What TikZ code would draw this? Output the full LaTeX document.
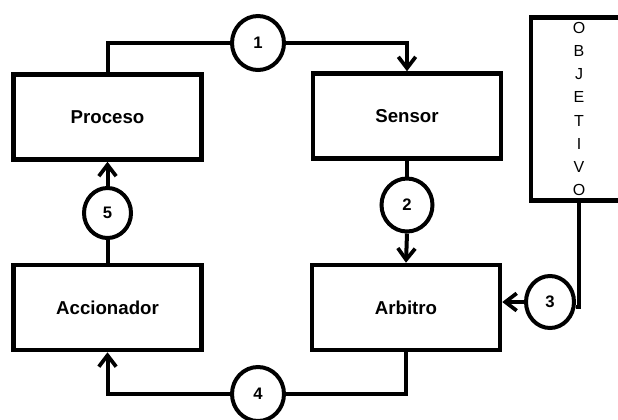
\documentclass[tikz,border=0pt]{standalone}
\usepackage{fontspec}
\setmainfont{Liberation Sans}
\usetikzlibrary{arrows.meta,shapes.geometric}

\begin{document}
\begin{tikzpicture}[x=0.75pt,y=-0.75pt,
    bloque/.style={draw,line width=3.4pt,minimum width=188pt*0.75,minimum height=85pt*0.75,font=\bfseries\fontsize{14}{16}\selectfont},
    etapa/.style={draw,ellipse,fill=white,line width=3pt,inner sep=0pt,font=\bfseries\fontsize{12.5}{14}\selectfont},
    flecha/.style={line width=3pt,-{Straight Barb[length=8.5pt,width=13pt,line width=2.8pt]}},
    linea/.style={line width=3pt}]
  \useasboundingbox (0,0) rectangle (618,419);
  \node[bloque] (proceso) at (107.5,117) {Proceso};
  \node[bloque] (sensor) at (407,116) {Sensor};
  \node[bloque] (accionador) at (107.5,307.5) {Accionador};
  \node[bloque] (arbitro) at (406,307.5) {Arbitro};
  \node[draw,line width=3.4pt,minimum width=96pt*0.75,minimum height=183pt*0.75,
        font=\fontsize{12}{17.3}\selectfont,align=center] (objetivo) at (579,109)
        {O\\B\\J\\E\\T\\I\\V\\O};
  \node[etapa,minimum width=52pt*0.75,minimum height=54pt*0.75] (c1) at (258,43) {1};
  \node[etapa,minimum width=51pt*0.75,minimum height=53pt*0.75] (c2) at (407,205) {2};
  \node[etapa,minimum width=48pt*0.75,minimum height=52pt*0.75] (c3) at (550,302) {3};
  \node[etapa,minimum width=52pt*0.75,minimum height=54pt*0.75] (c4) at (258,394) {4};
  \node[etapa,minimum width=47pt*0.75,minimum height=50pt*0.75] (c5) at (107.5,213) {5};
  % lazo
  \draw[linea] (proceso.north) |- (c1.west);
  \draw[flecha] (c1.east) -| (sensor.north);
  \draw[linea] (sensor.south) -- (c2.north);
  \draw[flecha] (c2.south) -- (arbitro.north);
  \draw[linea] (objetivo.south) |- ([yshift=-4pt]c3.east);
  \draw[flecha] (c3.west) -- (c3.west -| arbitro.east);
  \draw[linea] (arbitro.south) |- (c4.east);
  \draw[flecha] (c4.west) -| (accionador.south);
  \draw[linea] (accionador.north) -- (c5.south);
  \draw[flecha] (c5.north) -- (proceso.south);
\end{tikzpicture}
\end{document}
